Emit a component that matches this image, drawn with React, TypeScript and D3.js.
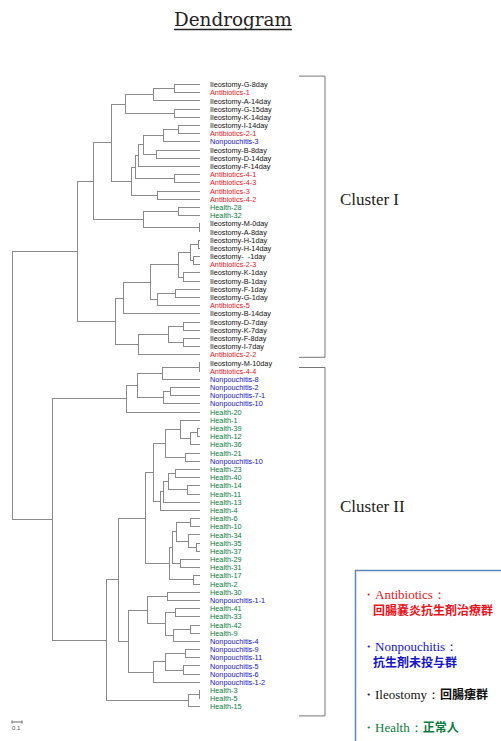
import React from "react";
import * as d3 from "d3";

// ---------- data ----------
const leafLabels: string[] = [
  "Ileostomy-G-8day", "Antibiotics-1", "Ileostomy-A-14day", "Ileostomy-G-15day",
  "Ileostomy-K-14day", "Ileostomy-I-14day", "Antibiotics-2-1", "Nonpouchitis-3",
  "Ileostomy-B-8day", "Ileostomy-D-14day", "Ileostomy-F-14day", "Antibiotics-4-1",
  "Antibiotics-4-3", "Antibiotics-3", "Antibiotics-4-2", "Health-28", "Health-32",
  "Ileostomy-M-0day", "Ileostomy-A-8day", "Ileostomy-H-1day", "Ileostomy-H-14day",
  "Ileostomy-\u00a0\u00a0-1day", "Antibiotics-2-3", "Ileostomy-K-1day", "Ileostomy-B-1day",
  "Ileostomy-F-1day", "Ileostomy-G-1day", "Antibiotics-5", "Ileostomy-B-14day",
  "Ileostomy-D-7day", "Ileostomy-K-7day", "Ileostomy-F-8day", "Ileostomy-I-7day",
  "Antibiotics-2-2",
  "Ileostomy-M-10day", "Antibiotics-4-4", "Nonpouchitis-8", "Nonpouchitis-2",
  "Nonpouchitis-7-1", "Nonpouchitis-10", "Health-20", "Health-1", "Health-39",
  "Health-12", "Health-36", "Health-21", "Nonpouchitis-10", "Health-23", "Health-40",
  "Health-14", "Health-11", "Health-13", "Health-4", "Health-6", "Health-10",
  "Health-34", "Health-35", "Health-37", "Health-29", "Health-31", "Health-17",
  "Health-2", "Health-30", "Nonpouchitis-1-1", "Health-41", "Health-33", "Health-42",
  "Health-9", "Nonpouchitis-4", "Nonpouchitis-9", "Nonpouchitis-11", "Nonpouchitis-5",
  "Nonpouchitis-6", "Nonpouchitis-1-2", "Health-3", "Health-5", "Health-15",
];

// linkage: [id, left child, right child, merge height]; numbers are leaf indices
const merges: [string, number | string, number | string, number][] = [
  ["a1", 0, 1, 0.26], ["a2", "a1", 2, 0.47], ["a3", 3, 4, 0.26], ["a4", "a2", "a3", 0.75],
  ["a5", 5, 6, 0.22], ["a6", "a5", 7, 0.37], ["a7", 8, 9, 0.44], ["a8", "a6", "a7", 0.57],
  ["a9", "a8", 10, 0.62], ["a10", 11, 12, 0.26], ["a11", "a9", "a10", 0.65],
  ["a12", 13, 14, 0.43], ["a13", "a11", "a12", 0.69], ["a14", "a4", "a13", 0.89],
  ["a15", 15, 16, 0.22], ["a16", 17, 18, 0.01], ["a17", "a15", "a16", 0.57],
  ["U", "a14", "a17", 1.07],
  ["b1", 19, 20, 0.02], ["b2", 21, 22, 0.07], ["b3", "b1", "b2", 0.10], ["b4", 23, 24, 0.17],
  ["b5", "b3", "b4", 0.22], ["b6", 25, 26, 0.25], ["b7", "b6", 27, 0.43], ["b8", "b5", "b7", 0.50],
  ["b9", "b8", 28, 0.77], ["b10", 29, 30, 0.17], ["b11", 31, 32, 0.17], ["b12", "b10", "b11", 0.32],
  ["b13", "b12", 33, 0.62], ["L", "b9", "b13", 0.85],
  ["CI", "U", "L", 1.23],
  ["c1", 34, 35, 0.01], ["c2", "c1", 36, 0.38], ["c3", 37, 38, 0.30], ["c4", "c3", 39, 0.37],
  ["c5", "c2", "c4", 0.63], ["c6", "c5", 40, 0.74],
  ["d1", 42, 43, 0.03], ["d2", "d1", 44, 0.10], ["d3", 41, "d2", 0.20], ["d4", 45, 46, 0.15],
  ["d5", "d3", "d4", 0.35], ["d6", 47, 48, 0.25], ["d7", 49, 50, 0.13], ["d8", "d6", "d7", 0.32],
  ["d9", "d8", 51, 0.37], ["d10", "d9", 52, 0.40], ["d11", "d5", "d10", 0.47],
  ["e1", 53, 54, 0.10], ["e2", 56, 57, 0.04], ["e3", 55, "e2", 0.12], ["e4", "e1", "e3", 0.24],
  ["e5", 58, 59, 0.20], ["e6", "e4", "e5", 0.28], ["e7", 60, 61, 0.07], ["e8", "e6", "e7", 0.31],
  ["e9", "d11", "e8", 0.55],
  ["f1", 62, 63, 0.33], ["f2", 64, 65, 0.25], ["f3", 66, 67, 0.10], ["f4", "f3", 68, 0.27],
  ["f5", "f2", "f4", 0.35], ["f6", "f1", "f5", 0.53], ["f7", 69, 70, 0.15], ["f8", 71, 72, 0.17],
  ["f9", "f7", "f8", 0.35], ["f10", "f9", 73, 0.47], ["f11", "f6", "f10", 0.72],
  ["f12", "e9", "f11", 0.82],
  ["g1", 74, 75, 0.01], ["g2", "g1", 76, 0.12], ["g3", "f12", "g2", 0.94],
  ["CII", "c6", "g3", 1.48],
  ["root", "CI", "CII", 1.88],
];

const groupNames = ["Antibiotics", "Nonpouchitis", "Ileostomy", "Health"];
const groupColors = ["#e8141c", "#1414c8", "#111111", "#0a7d3e"];
const legendEnglish = ["・Antibiotics：", "・Nonpouchitis：", "・Ileostomy：", "・Health："];
const legendJapanese = ["回腸嚢炎抗生剤治療群", "抗生剤未投与群", "回腸瘻群", "正常人"];
const clusterNames = ["Cluster I", "Cluster II"];
const clusterFirstLeaf = [0, 34];
const clusterLastLeaf = [33, 76];
const scaleBarValue = 0.1;

// ---------- component ----------
export default function App() {
  const W = 501, H = 741;
  const lineColor = "#8a8a8a";

  const nodeMap = new Map<string, any>();
  const getNode = (k: number | string) =>
    typeof k === "number" ? { name: `leaf${k}`, leaf: k, height: 0 } : nodeMap.get(k);
  merges.forEach(([id, a, b, h]) => {
    nodeMap.set(id, { name: id, height: h, children: [getNode(a), getNode(b)] });
  });
  const root = d3.hierarchy(nodeMap.get("root"));
  const yTop = 80.5, yBottom = 711;
  d3.cluster<any>().size([yBottom - yTop, 1]).separation(() => 1)(root);

  const maxH = d3.max(merges, (m) => m[3]) as number;
  const x = d3.scaleLinear().domain([0, maxH]).range([200, 12]);
  const yOf = (n: any) => yTop + n.x;

  const leaves = root.leaves();
  const leafY = new Map<number, number>();
  leaves.forEach((l: any) => leafY.set(l.data.leaf, yOf(l)));

  const colorOf = (label: string) => {
    const g = label.split("-")[0];
    const i = groupNames.indexOf(g);
    return i >= 0 ? groupColors[i] : "#111";
  };

  const segs: { x1: number; y1: number; x2: number; y2: number }[] = [];
  root.each((n: any) => {
    if (n.children) {
      const ys = n.children.map(yOf);
      segs.push({ x1: x(n.data.height), y1: d3.min(ys)!, x2: x(n.data.height), y2: d3.max(ys)! });
      n.children.forEach((c: any) => {
        segs.push({ x1: x(n.data.height), y1: yOf(c), x2: x(c.data.height), y2: yOf(c) });
      });
    }
  });

  // cluster brackets
  const bracketX0 = 299, bracketX1 = 325;
  const brackets = clusterNames.map((name, i) => {
    const t = i === 0 ? leafY.get(clusterFirstLeaf[i])! - 8.5 : leafY.get(clusterFirstLeaf[i])! + 4.5;
    const b = i === 0 ? leafY.get(clusterLastLeaf[i])! + 2.5 : leafY.get(clusterLastLeaf[i])! + 9;
    return { name, t, b };
  });
  const clusterLabelY = [205, 512];

  const legendRows = [
    { jpSame: false, y1: 599, y2: 615 },
    { jpSame: false, y1: 651, y2: 667 },
    { jpSame: true, y1: 699, y2: 0 },
    { jpSame: true, y1: 732, y2: 0 },
  ];

  const serif = "'Liberation Serif', 'DejaVu Serif', serif";
  const cjk = "'Noto Sans CJK JP', 'Noto Sans', sans-serif";

  const sbX0 = 12, sbX1 = 12 + (x(0) - x(scaleBarValue)), sbY = 722;

  return (
    <svg width={W} height={H} style={{ position: "absolute", left: 0, top: 0, background: "#fff" }}>
      {/* title */}
      <text x={174} y={26} fontFamily="'DejaVu Serif', serif" fontSize={18} fill="#222"
        textLength={118} lengthAdjust="spacingAndGlyphs">Dendrogram</text>
      <line x1={174} x2={292} y1={29.5} y2={29.5} stroke="#222" strokeWidth={1.3} />

      {/* tree */}
      <g stroke={lineColor} strokeWidth={1} fill="none" shapeRendering="crispEdges">
        {segs.map((s, i) => (
          <line key={i} x1={s.x1} y1={s.y1} x2={s.x2} y2={s.y2} />
        ))}
      </g>

      {/* leaf labels */}
      <g fontFamily="'Liberation Sans', Arial, sans-serif" fontSize={7.3}>
        {leaves.map((l: any) => {
          const lab = leafLabels[l.data.leaf];
          return (
            <text key={l.data.leaf} x={210} y={yOf(l)} dy="0.35em" fill={colorOf(lab)}>
              {lab}
            </text>
          );
        })}
      </g>

      {/* cluster brackets */}
      <g stroke="#777" strokeWidth={1} fill="none">
        {brackets.map((b, i) => (
          <path key={i} d={`M${bracketX0},${b.t}H${bracketX1}V${b.b}H${bracketX0}`} />
        ))}
      </g>
      {brackets.map((b, i) => (
        <text key={i} x={340} y={clusterLabelY[i]} fontFamily={serif} fontSize={17} fill="#222">
          {b.name}
        </text>
      ))}

      {/* legend */}
      <rect x={355.5} y={570.5} width={170} height={200} fill="none" stroke="#5b86b3" strokeWidth={1.5} />
      {legendRows.map((r, i) => (
        <g key={i} fill={groupColors[i]}>
          <text x={362} y={r.y1} fontSize={13}>
            <tspan fontFamily={serif}>{legendEnglish[i]}</tspan>
            {r.jpSame && (
              <tspan fontFamily={cjk} fontWeight={700} fontSize={12}>{legendJapanese[i]}</tspan>
            )}
          </text>
          {!r.jpSame && (
            <text x={373} y={r.y2} fontFamily={cjk} fontWeight={700} fontSize={12}>
              {legendJapanese[i]}
            </text>
          )}
        </g>
      ))}

      {/* scale bar */}
      <g stroke="#666" strokeWidth={1} fill="none">
        <line x1={sbX0} x2={sbX1} y1={sbY} y2={sbY} />
        <line x1={sbX0} x2={sbX0} y1={sbY - 1.5} y2={sbY + 1.5} />
        <line x1={sbX1} x2={sbX1} y1={sbY - 1.5} y2={sbY + 1.5} />
      </g>
      <text x={12} y={730} fontFamily="'Liberation Sans', Arial, sans-serif" fontSize={6} fill="#555">
        {String(scaleBarValue)}
      </text>
    </svg>
  );
}
